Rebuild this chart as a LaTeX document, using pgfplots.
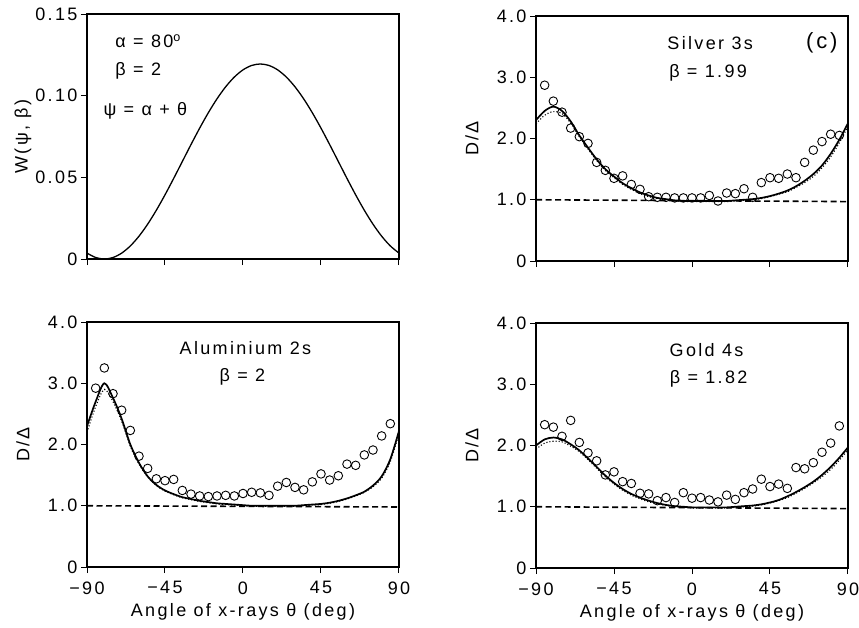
\documentclass[border=0pt]{standalone}
\usepackage{fontspec}
\setmainfont{Liberation Sans}[LetterSpace=13]
\usepackage{pgfplots}
\pgfplotsset{compat=1.18}
\pgfplotstableread{
t s d
-90 2.30 2.24
-85 2.45 2.38
-80 2.52 2.44
-75 2.45 2.41
-70 2.28 2.25
-65 2.05 2.03
-60 1.85 1.83
-55 1.66 1.64
-50 1.50 1.48
-45 1.38 1.36
-40 1.27 1.25
-35 1.19 1.17
-30 1.12 1.10
-25 1.07 1.05
-20 1.03 1.02
-15 1.01 1.00
-10 0.99 0.98
-5 0.98 0.97
0 0.98 0.97
5 0.98 0.97
10 0.98 0.97
15 0.98 0.97
20 0.98 0.97
25 0.99 0.98
30 1.00 0.99
35 1.01 1.00
40 1.03 1.02
45 1.06 1.05
50 1.10 1.09
55 1.15 1.13
60 1.22 1.20
65 1.31 1.28
70 1.42 1.38
75 1.56 1.52
80 1.75 1.70
85 1.98 1.93
90 2.25 2.20
}\silvercurve
\pgfplotstableread{
t v
-85 2.87
-80 2.61
-75 2.43
-70 2.17
-65 2.03
-60 1.92
-55 1.61
-50 1.48
-45 1.35
-40 1.39
-35 1.25
-30 1.17
-25 1.05
-20 1.04
-15 1.04
-10 1.03
-5 1.03
0 1.03
5 1.03
10 1.07
15 0.98
20 1.11
25 1.10
30 1.18
35 1.04
40 1.28
45 1.36
50 1.35
55 1.42
60 1.36
65 1.61
70 1.81
75 1.95
80 2.07
85 2.05
}\silverdata
\pgfplotstableread{
t s d
-90 2.30 2.20
-85 2.70 2.62
-80 3.00 2.90
-75 2.76 2.70
-70 2.42 2.38
-65 2.00 1.97
-60 1.70 1.68
-55 1.48 1.47
-50 1.34 1.33
-45 1.25 1.24
-40 1.19 1.18
-35 1.14 1.13
-30 1.11 1.10
-25 1.08 1.07
-20 1.06 1.05
-15 1.04 1.03
-10 1.03 1.02
-5 1.02 1.01
0 1.01 1.00
5 1.00 0.99
10 1.00 0.99
15 1.00 0.99
20 1.00 0.99
25 1.00 0.99
30 1.00 0.99
35 1.01 1.00
40 1.02 1.01
45 1.03 1.02
50 1.05 1.04
55 1.08 1.07
60 1.12 1.11
65 1.17 1.16
70 1.23 1.22
75 1.33 1.31
80 1.48 1.45
85 1.76 1.72
90 2.22 2.18
}\alcurve
\pgfplotstableread{
t v
-85 2.92
-80 3.25
-75 2.83
-70 2.56
-65 2.23
-60 1.81
-55 1.61
-50 1.44
-45 1.41
-40 1.43
-35 1.25
-30 1.19
-25 1.16
-20 1.15
-15 1.16
-10 1.17
-5 1.16
0 1.20
5 1.22
10 1.21
15 1.17
20 1.32
25 1.38
30 1.30
35 1.26
40 1.39
45 1.52
50 1.42
55 1.49
60 1.68
65 1.66
70 1.83
75 1.91
80 2.14
85 2.34
}\aldata
\pgfplotstableread{
t s d
-90 2.00 1.94
-85 2.10 2.04
-80 2.13 2.07
-75 2.10 2.06
-70 2.02 1.99
-65 1.92 1.90
-60 1.79 1.77
-55 1.65 1.63
-50 1.51 1.49
-45 1.39 1.37
-40 1.29 1.27
-35 1.21 1.19
-30 1.15 1.13
-25 1.10 1.08
-20 1.06 1.05
-15 1.03 1.02
-10 1.01 1.00
-5 1.00 0.99
0 0.99 0.98
5 0.99 0.98
10 0.99 0.98
15 0.99 0.98
20 0.99 0.98
25 1.00 0.99
30 1.01 1.00
35 1.02 1.01
40 1.04 1.03
45 1.07 1.06
50 1.11 1.10
55 1.17 1.15
60 1.24 1.22
65 1.32 1.30
70 1.41 1.39
75 1.52 1.49
80 1.65 1.61
85 1.80 1.76
90 1.97 1.93
}\goldcurve
\pgfplotstableread{
t v
-85 2.34
-80 2.30
-75 2.15
-70 2.41
-65 2.05
-60 1.88
-55 1.75
-50 1.52
-45 1.57
-40 1.41
-35 1.38
-30 1.22
-25 1.21
-20 1.10
-15 1.15
-10 1.07
-5 1.23
0 1.14
5 1.15
10 1.11
15 1.08
20 1.19
25 1.12
30 1.23
35 1.29
40 1.45
45 1.33
50 1.37
55 1.30
60 1.64
65 1.62
70 1.72
75 1.89
80 2.04
85 2.32
}\golddata
\pgfplotstableread{
t w
-90 0.00360
-85 0.00091
-80 0.00000
-75 0.00091
-70 0.00360
-65 0.00800
-60 0.01397
-55 0.02133
-50 0.02985
-45 0.03928
-40 0.04933
-35 0.05970
-30 0.07007
-25 0.08012
-20 0.08955
-15 0.09807
-10 0.10543
-5 0.11140
0 0.11580
5 0.11849
10 0.11940
15 0.11849
20 0.11580
25 0.11140
30 0.10543
35 0.09807
40 0.08955
45 0.08012
50 0.07007
55 0.05970
60 0.04933
65 0.03928
70 0.02985
75 0.02133
80 0.01397
85 0.00800
90 0.00360
}\wcurve
\newcommand{\fs}{\fontsize{18}{21}\selectfont}
\pgfplotsset{
  base/.style={
    scale only axis, width=312pt, height=245pt,
    xmin=-90, xmax=90,
    xtick={-90,-45,0,45,90},
    tick align=outside, xtick pos=left, ytick pos=left,
    major tick length=6pt,
    axis line style={line width=1.1pt},
    every tick/.style={line width=1pt, black},
    tick label style={font=\fs},
    xticklabel style={yshift=-2.5pt},
    /pgf/number format/assume math mode=true,
    every axis y label/.style={at={(axis description cs:-0.205,0.5)}, rotate=90, anchor=center, font=\fs},
    every axis x label/.style={at={(axis description cs:0.5,-0.185)}, anchor=center, font=\fs},
  },
  dd/.style={base, ymin=0, ymax=4, ytick={0,1,2,3,4}, yticklabels={0,1.0,2.0,3.0,4.0}, ylabel={D/Δ}},
  toprow/.style={xticklabels={,,,,}},
  botrow/.style={xticklabels={−90,−45,0,45,90}, xlabel={Angle of x-rays θ (deg)}},
  solidc/.style={black, line width=1.7pt, smooth, tension=0.5},
  dotc/.style={black, line width=1.1pt, dotted, smooth, tension=0.5},
  dashc/.style={black, line width=1.6pt, dash pattern=on 6pt off 3.5pt},
  circ/.style={only marks, mark=o, mark size=4.3pt, mark options={line width=0.9pt, black}},
}
\begin{document}
\begin{tikzpicture}
\useasboundingbox (0pt,0pt) rectangle (859pt,-627pt);
% top left
\begin{axis}[base, toprow, at={(87pt,-259pt)}, anchor=south west,
  ymin=0, ymax=0.15, ytick={0,0.05,0.10,0.15}, yticklabels={0,0.05,0.10,0.15},
  ylabel={W(ψ, β)}]
\addplot[black, line width=1.3pt, smooth] table[x=t, y=w] {\wcurve};
\node[anchor=west, font=\fs] at (axis cs:-75.6,0.1335) {α = 80\textsuperscript{o}};
\node[anchor=west, font=\fs] at (axis cs:-75.6,0.1155) {β = 2};
\node[anchor=west, font=\fs] at (axis cs:-82.5,0.0905) {ψ = α + θ};
\end{axis}
% top right
\begin{axis}[base, dd, toprow, at={(536pt,-261pt)}, anchor=south west]
\addplot[dashc] coordinates {(-90,1.0) (90,0.97)};
\addplot[dotc] table[x=t, y=d] {\silvercurve};
\addplot[solidc] table[x=t, y=s] {\silvercurve};
\addplot[circ] table[x=t, y=v] {\silverdata};
\node[font=\fs] at (axis cs:10.5,3.56) {Silver 3s};
\node[font=\fs] at (axis cs:9.3,3.07) {β = 1.99};
\node[font=\fontsize{22}{25}\selectfont] at (axis cs:74.9,3.56) {(c)};
\end{axis}
% bottom left
\begin{axis}[base, dd, botrow, at={(87pt,-567pt)}, anchor=south west]
\addplot[dashc] coordinates {(-90,1.0) (90,0.98)};
\addplot[dotc] table[x=t, y=d] {\alcurve};
\addplot[solidc] table[x=t, y=s] {\alcurve};
\addplot[circ] table[x=t, y=v] {\aldata};
\node[font=\fs] at (axis cs:1.4,3.57) {Aluminium 2s};
\node[font=\fs] at (axis cs:-0.3,3.10) {β = 2};
\end{axis}
% bottom right
\begin{axis}[base, dd, botrow, at={(536pt,-568pt)}, anchor=south west]
\addplot[dashc] coordinates {(-90,1.0) (90,0.97)};
\addplot[dotc] table[x=t, y=d] {\goldcurve};
\addplot[solidc] table[x=t, y=s] {\goldcurve};
\addplot[circ] table[x=t, y=v] {\golddata};
\node[font=\fs] at (axis cs:8.4,3.56) {Gold 4s};
\node[font=\fs] at (axis cs:9.6,3.09) {β = 1.82};
\end{axis}
\end{tikzpicture}
\end{document}
